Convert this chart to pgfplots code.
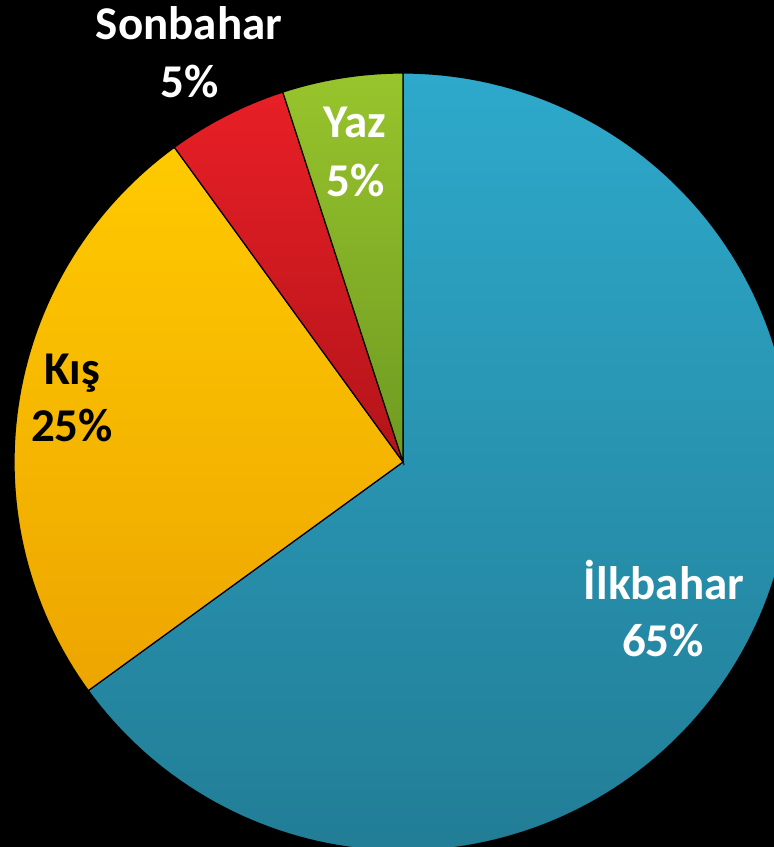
\documentclass[border=0pt]{standalone}
\usepackage{pgfplots}
\pgfplotsset{compat=1.18}
\usepackage{fontspec}
\setmainfont{Carlito}
\definecolor{bluetop}{HTML}{2EA9CB}
\definecolor{bluebot}{HTML}{227D96}
\definecolor{yeltop}{HTML}{FFCA00}
\definecolor{yelbot}{HTML}{EDA500}
\definecolor{redtop}{HTML}{E81F26}
\definecolor{redbot}{HTML}{B3141A}
\definecolor{grntop}{HTML}{98C42C}
\definecolor{grnbot}{HTML}{6E9A22}
% shares in percent
\def\pIlk{65}\def\pKis{25}\def\pSon{5}\def\pYaz{5}
\def\cx{403}\def\cy{385}\def\R{389}
\begin{document}
\begin{tikzpicture}
\pgfmathsetmacro{\aA}{90}
\pgfmathsetmacro{\aB}{90-3.6*\pIlk}
\pgfmathsetmacro{\aC}{\aB-3.6*\pKis}
\pgfmathsetmacro{\aD}{\aC-3.6*\pSon}
\pgfmathsetmacro{\aE}{\aD-3.6*\pYaz}
\begin{axis}[x=1pt,y=1pt,xmin=0,xmax=774,ymin=0,ymax=847,
  hide axis, clip=true, scale only axis]
\addplot[fill=black, draw=none] coordinates {(0,0) (774,0) (774,847) (0,847)} -- cycle;
% İlkbahar
\addplot[draw=black, line width=1.2pt, top color=bluetop, bottom color=bluebot,
  domain=\aB:\aA, samples=160, variable=\t]
  ({\cx+\R*cos(\t)},{\cy+\R*sin(\t)}) -- (axis cs:\cx,\cy) -- cycle;
% Kış
\addplot[draw=black, line width=1.2pt, top color=yeltop, bottom color=yelbot,
  domain=\aC:\aB, samples=70, variable=\t]
  ({\cx+\R*cos(\t)},{\cy+\R*sin(\t)}) -- (axis cs:\cx,\cy) -- cycle;
% Sonbahar
\addplot[draw=black, line width=1.2pt, top color=redtop, bottom color=redbot,
  domain=\aD:\aC, samples=20, variable=\t]
  ({\cx+\R*cos(\t)},{\cy+\R*sin(\t)}) -- (axis cs:\cx,\cy) -- cycle;
% Yaz
\addplot[draw=black, line width=1.2pt, top color=grntop, bottom color=grnbot,
  domain=\aE:\aD, samples=20, variable=\t]
  ({\cx+\R*cos(\t)},{\cy+\R*sin(\t)}) -- (axis cs:\cx,\cy) -- cycle;
\tikzset{lab/.style={anchor=base, inner sep=0pt, font=\fontsize{47}{56}\selectfont\bfseries}}
\node[lab, white] at (axis cs:189,807) {Sonbahar};
\node[lab, white] at (axis cs:190,749) {5\%};
\node[lab, white] at (axis cs:355,709) {Yaz};
\node[lab, white] at (axis cs:356,650) {5\%};
\node[lab, black] at (axis cs:72,462) {Kış};
\node[lab, black] at (axis cs:72,405) {25\%};
\node[lab, white] at (axis cs:664,247) {İlkbahar};
\node[lab, white] at (axis cs:663,190) {65\%};
\end{axis}
\end{tikzpicture}
\end{document}
